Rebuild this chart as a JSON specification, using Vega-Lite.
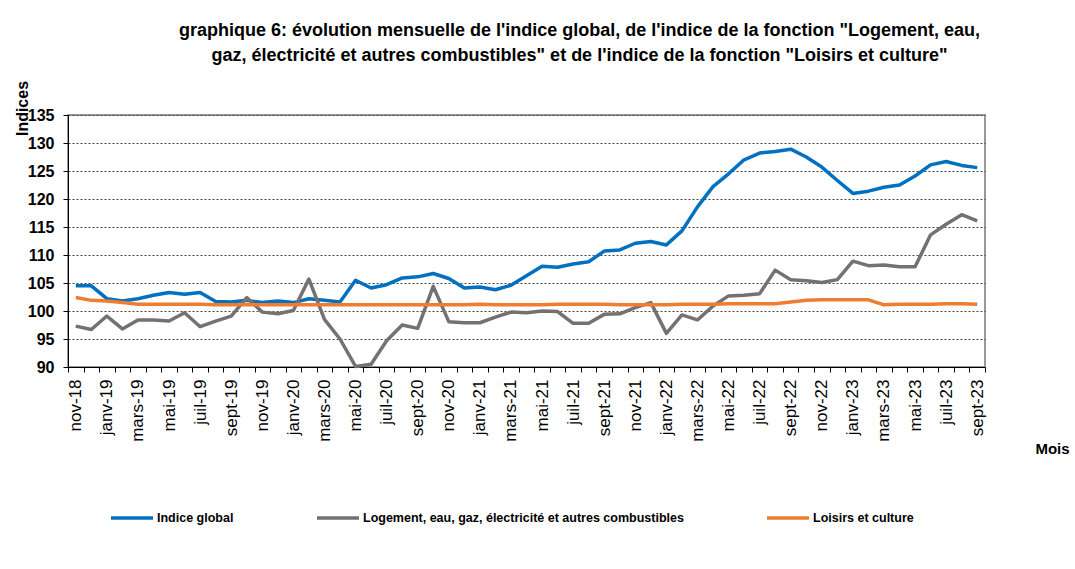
{
  "$schema": "https://vega.github.io/schema/vega-lite/v6.json",
  "autosize": "none",
  "width": 917,
  "height": 252,
  "padding": {"left": 68, "top": 115, "right": 90, "bottom": 202},
  "background": "white",
  "title": {
    "text": ["graphique 6: évolution mensuelle de l'indice global, de l'indice de la fonction \"Logement, eau,", "gaz, électricité et autres combustibles\" et de l'indice de la fonction \"Loisirs et culture\""],
    "anchor": "middle",
    "dx": 53,
    "offset": 15,
    "font": "Liberation Sans",
    "fontSize": 18,
    "fontWeight": "bold",
    "color": "black",
    "lineHeight": 25
  },
  "config": {
    "view": {"stroke": "#999999", "strokeWidth": 2},
    "axis": {"labelColor": "black", "titleColor": "black", "tickColor": "black", "domainColor": "black"}
  },
  "data": {
    "values": [
      {"m": "nov-18", "Indice global": 104.5, "Logement, eau, gaz, électricité et autres combustibles": 97.3, "Loisirs et culture": 102.4},
      {"m": "déc-18", "Indice global": 104.5, "Logement, eau, gaz, électricité et autres combustibles": 96.7, "Loisirs et culture": 101.9},
      {"m": "janv-19", "Indice global": 102.2, "Logement, eau, gaz, électricité et autres combustibles": 99.1, "Loisirs et culture": 101.8},
      {"m": "févr-19", "Indice global": 101.8, "Logement, eau, gaz, électricité et autres combustibles": 96.8, "Loisirs et culture": 101.5},
      {"m": "mars-19", "Indice global": 102.2, "Logement, eau, gaz, électricité et autres combustibles": 98.4, "Loisirs et culture": 101.2},
      {"m": "avr-19", "Indice global": 102.8, "Logement, eau, gaz, électricité et autres combustibles": 98.4, "Loisirs et culture": 101.2},
      {"m": "mai-19", "Indice global": 103.3, "Logement, eau, gaz, électricité et autres combustibles": 98.2, "Loisirs et culture": 101.2},
      {"m": "juin-19", "Indice global": 103.0, "Logement, eau, gaz, électricité et autres combustibles": 99.7, "Loisirs et culture": 101.2},
      {"m": "juil-19", "Indice global": 103.3, "Logement, eau, gaz, électricité et autres combustibles": 97.2, "Loisirs et culture": 101.2},
      {"m": "août-19", "Indice global": 101.7, "Logement, eau, gaz, électricité et autres combustibles": 98.2, "Loisirs et culture": 101.1},
      {"m": "sept-19", "Indice global": 101.6, "Logement, eau, gaz, électricité et autres combustibles": 99.1, "Loisirs et culture": 101.1},
      {"m": "oct-19", "Indice global": 101.9, "Logement, eau, gaz, électricité et autres combustibles": 102.4, "Loisirs et culture": 101.1},
      {"m": "nov-19", "Indice global": 101.5, "Logement, eau, gaz, électricité et autres combustibles": 99.8, "Loisirs et culture": 101.1},
      {"m": "déc-19", "Indice global": 101.8, "Logement, eau, gaz, électricité et autres combustibles": 99.5, "Loisirs et culture": 101.1},
      {"m": "janv-20", "Indice global": 101.5, "Logement, eau, gaz, électricité et autres combustibles": 100.1, "Loisirs et culture": 101.1},
      {"m": "févr-20", "Indice global": 102.2, "Logement, eau, gaz, électricité et autres combustibles": 105.7, "Loisirs et culture": 101.1},
      {"m": "mars-20", "Indice global": 101.9, "Logement, eau, gaz, électricité et autres combustibles": 98.5, "Loisirs et culture": 101.1},
      {"m": "avr-20", "Indice global": 101.6, "Logement, eau, gaz, électricité et autres combustibles": 95.0, "Loisirs et culture": 101.1},
      {"m": "mai-20", "Indice global": 105.5, "Logement, eau, gaz, électricité et autres combustibles": 90.1, "Loisirs et culture": 101.1},
      {"m": "juin-20", "Indice global": 104.1, "Logement, eau, gaz, électricité et autres combustibles": 90.5, "Loisirs et culture": 101.1},
      {"m": "juil-20", "Indice global": 104.7, "Logement, eau, gaz, électricité et autres combustibles": 94.7, "Loisirs et culture": 101.1},
      {"m": "août-20", "Indice global": 105.9, "Logement, eau, gaz, électricité et autres combustibles": 97.5, "Loisirs et culture": 101.1},
      {"m": "sept-20", "Indice global": 106.1, "Logement, eau, gaz, électricité et autres combustibles": 96.9, "Loisirs et culture": 101.1},
      {"m": "oct-20", "Indice global": 106.7, "Logement, eau, gaz, électricité et autres combustibles": 104.4, "Loisirs et culture": 101.1},
      {"m": "nov-20", "Indice global": 105.8, "Logement, eau, gaz, électricité et autres combustibles": 98.1, "Loisirs et culture": 101.1},
      {"m": "déc-20", "Indice global": 104.1, "Logement, eau, gaz, électricité et autres combustibles": 97.9, "Loisirs et culture": 101.1},
      {"m": "janv-21", "Indice global": 104.3, "Logement, eau, gaz, électricité et autres combustibles": 97.9, "Loisirs et culture": 101.2},
      {"m": "févr-21", "Indice global": 103.8, "Logement, eau, gaz, électricité et autres combustibles": 98.9, "Loisirs et culture": 101.1},
      {"m": "mars-21", "Indice global": 104.6, "Logement, eau, gaz, électricité et autres combustibles": 99.8, "Loisirs et culture": 101.1},
      {"m": "avr-21", "Indice global": 106.3, "Logement, eau, gaz, électricité et autres combustibles": 99.7, "Loisirs et culture": 101.1},
      {"m": "mai-21", "Indice global": 108.0, "Logement, eau, gaz, électricité et autres combustibles": 100.0, "Loisirs et culture": 101.1},
      {"m": "juin-21", "Indice global": 107.8, "Logement, eau, gaz, électricité et autres combustibles": 99.9, "Loisirs et culture": 101.2},
      {"m": "juil-21", "Indice global": 108.4, "Logement, eau, gaz, électricité et autres combustibles": 97.8, "Loisirs et culture": 101.2},
      {"m": "août-21", "Indice global": 108.8, "Logement, eau, gaz, électricité et autres combustibles": 97.8, "Loisirs et culture": 101.2},
      {"m": "sept-21", "Indice global": 110.7, "Logement, eau, gaz, électricité et autres combustibles": 99.4, "Loisirs et culture": 101.2},
      {"m": "oct-21", "Indice global": 110.9, "Logement, eau, gaz, électricité et autres combustibles": 99.5, "Loisirs et culture": 101.1},
      {"m": "nov-21", "Indice global": 112.1, "Logement, eau, gaz, électricité et autres combustibles": 100.6, "Loisirs et culture": 101.1},
      {"m": "déc-21", "Indice global": 112.4, "Logement, eau, gaz, électricité et autres combustibles": 101.5, "Loisirs et culture": 101.1},
      {"m": "janv-22", "Indice global": 111.8, "Logement, eau, gaz, électricité et autres combustibles": 96.0, "Loisirs et culture": 101.1},
      {"m": "févr-22", "Indice global": 114.3, "Logement, eau, gaz, électricité et autres combustibles": 99.3, "Loisirs et culture": 101.2},
      {"m": "mars-22", "Indice global": 118.6, "Logement, eau, gaz, électricité et autres combustibles": 98.4, "Loisirs et culture": 101.2},
      {"m": "avr-22", "Indice global": 122.2, "Logement, eau, gaz, électricité et autres combustibles": 100.9, "Loisirs et culture": 101.2},
      {"m": "mai-22", "Indice global": 124.5, "Logement, eau, gaz, électricité et autres combustibles": 102.7, "Loisirs et culture": 101.3},
      {"m": "juin-22", "Indice global": 127.0, "Logement, eau, gaz, électricité et autres combustibles": 102.8, "Loisirs et culture": 101.3},
      {"m": "juil-22", "Indice global": 128.2, "Logement, eau, gaz, électricité et autres combustibles": 103.1, "Loisirs et culture": 101.3},
      {"m": "août-22", "Indice global": 128.5, "Logement, eau, gaz, électricité et autres combustibles": 107.3, "Loisirs et culture": 101.3},
      {"m": "sept-22", "Indice global": 128.9, "Logement, eau, gaz, électricité et autres combustibles": 105.6, "Loisirs et culture": 101.6},
      {"m": "oct-22", "Indice global": 127.5, "Logement, eau, gaz, électricité et autres combustibles": 105.4, "Loisirs et culture": 101.9},
      {"m": "nov-22", "Indice global": 125.7, "Logement, eau, gaz, électricité et autres combustibles": 105.1, "Loisirs et culture": 102.0},
      {"m": "déc-22", "Indice global": 123.3, "Logement, eau, gaz, électricité et autres combustibles": 105.6, "Loisirs et culture": 102.0},
      {"m": "janv-23", "Indice global": 121.0, "Logement, eau, gaz, électricité et autres combustibles": 108.9, "Loisirs et culture": 102.0},
      {"m": "févr-23", "Indice global": 121.4, "Logement, eau, gaz, électricité et autres combustibles": 108.1, "Loisirs et culture": 102.0},
      {"m": "mars-23", "Indice global": 122.1, "Logement, eau, gaz, électricité et autres combustibles": 108.2, "Loisirs et culture": 101.1},
      {"m": "avr-23", "Indice global": 122.5, "Logement, eau, gaz, électricité et autres combustibles": 107.9, "Loisirs et culture": 101.2},
      {"m": "mai-23", "Indice global": 124.1, "Logement, eau, gaz, électricité et autres combustibles": 107.9, "Loisirs et culture": 101.2},
      {"m": "juin-23", "Indice global": 126.1, "Logement, eau, gaz, électricité et autres combustibles": 113.6, "Loisirs et culture": 101.2},
      {"m": "juil-23", "Indice global": 126.7, "Logement, eau, gaz, électricité et autres combustibles": 115.5, "Loisirs et culture": 101.3},
      {"m": "août-23", "Indice global": 126.0, "Logement, eau, gaz, électricité et autres combustibles": 117.2, "Loisirs et culture": 101.3},
      {"m": "sept-23", "Indice global": 125.6, "Logement, eau, gaz, électricité et autres combustibles": 116.1, "Loisirs et culture": 101.2}
    ]
  },
  "transform": [
    {"fold": ["Indice global", "Logement, eau, gaz, électricité et autres combustibles", "Loisirs et culture"], "as": ["serie", "valeur"]}
  ],
  "mark": {"type": "line", "strokeWidth": 3.5, "strokeJoin": "round"},
  "encoding": {
    "x": {
      "field": "m",
      "type": "ordinal",
      "sort": null,
      "scale": {"type": "band", "paddingInner": 0, "paddingOuter": 0},
      "axis": {
        "title": "Mois",
        "titleFont": "Liberation Sans",
        "titleFontSize": 15,
        "titleFontWeight": "bold",
        "titleX": 984,
        "titleY": 81,
        "titleAlign": "center",
        "titleBaseline": "middle",
        "labelAngle": -90,
        "labelFont": "Liberation Sans",
        "labelFontSize": 17,
        "labelPadding": 7,
        "labelExpr": "test(/^(nov|janv|mars|mai|juil|sept)-/, datum.label) ? datum.label : ''",
        "tickBand": "extent",
        "tickSize": 5,
        "grid": false,
        "labelOverlap": false
      }
    },
    "y": {
      "field": "valeur",
      "type": "quantitative",
      "scale": {"domain": [90, 135], "nice": false, "zero": false},
      "axis": {
        "title": "Indices",
        "titleFont": "Liberation Sans",
        "titleFontSize": 16,
        "titleFontWeight": "bold",
        "titleAngle": -90,
        "titleX": -46,
        "titleY": -7,
        "titleAlign": "center",
        "titleBaseline": "middle",
        "values": [90, 95, 100, 105, 110, 115, 120, 125, 130, 135],
        "labelFont": "Liberation Sans",
        "labelFontSize": 16,
        "labelFontWeight": "bold",
        "labelPadding": 9,
        "tickSize": 5,
        "grid": true,
        "gridColor": "#444444",
        "gridDash": [2, 2],
        "gridWidth": 1
      }
    },
    "color": {
      "field": "serie",
      "type": "nominal",
      "scale": {
        "domain": ["Indice global", "Logement, eau, gaz, électricité et autres combustibles", "Loisirs et culture"],
        "range": ["#0070C0", "#767171", "#ED7D31"]
      },
      "legend": {
        "title": null,
        "orient": "none",
        "direction": "horizontal",
        "legendX": 41,
        "legendY": 380,
        "symbolType": "stroke",
        "symbolSize": 1764,
        "symbolStrokeWidth": 3.5,
        "labelFont": "Liberation Sans",
        "labelFontSize": 12.5,
        "labelFontWeight": "bold",
        "labelColor": "black",
        "labelLimit": 500,
        "labelOffset": 2,
        "columnPadding": 76
      }
    }
  }
}
